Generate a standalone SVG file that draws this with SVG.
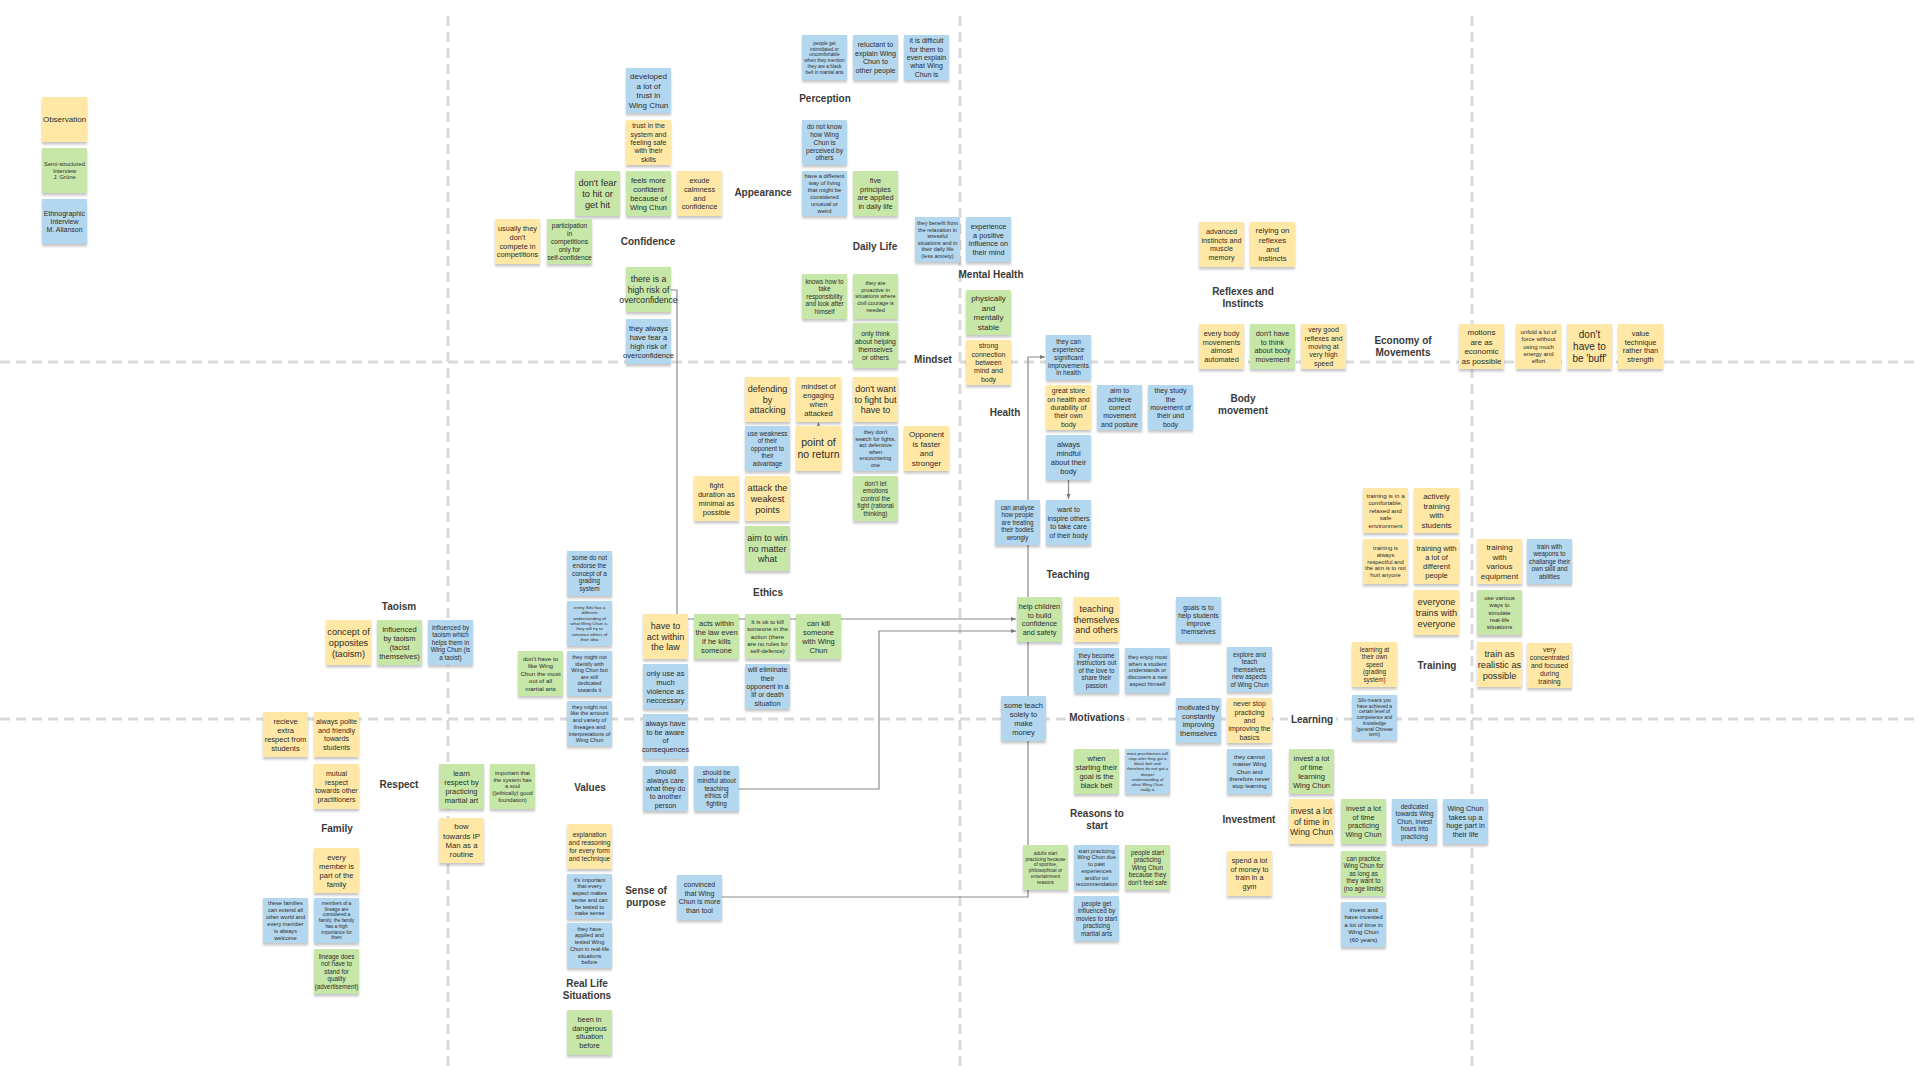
<svg xmlns="http://www.w3.org/2000/svg" width="1920" height="1080" viewBox="0 0 1920 1080">
<defs>
<style>
.y{fill:#FFE8A5}
.g{fill:#C7E7A9}
.b{fill:#B4D7F0}
.n rect{filter:url(#sh)}
.n text{font-family:"Liberation Sans",Arial,sans-serif;fill:#2b2b2b;text-anchor:middle}
.lbl{font-family:"Liberation Sans",Arial,sans-serif;font-weight:bold;font-size:10px;fill:#3a3a3a;text-anchor:middle}
.grid line{stroke:#dadada;stroke-width:3;stroke-dasharray:10 6}
.con path{fill:none;stroke:#8a8a8a;stroke-width:1.2}
.lbg{fill:#ffffff}
</style>
<filter id="sh" x="-20%" y="-20%" width="140%" height="150%">
<feDropShadow dx="0" dy="2.5" stdDeviation="1.2" flood-color="#000" flood-opacity="0.22"/>
</filter>
<marker id="ar" viewBox="0 0 10 10" refX="10" refY="5" markerWidth="5" markerHeight="5" markerUnits="userSpaceOnUse" orient="auto">
<path d="M0,1 L10,5 L0,9 z" fill="#777"/>
</marker>
</defs>
<rect width="1920" height="1080" fill="#ffffff"/>

<g id="grid" class="grid">
<line x1="0" y1="362" x2="1920" y2="362"/>
<line x1="0" y1="719" x2="1920" y2="719"/>
<line x1="448" y1="16" x2="448" y2="1066"/>
<line x1="960" y1="16" x2="960" y2="1066"/>
<line x1="1472" y1="16" x2="1472" y2="1066"/>
</g>

<g id="connectors" class="con">
<path d="M722,897 H1028 V357 H1045" marker-end="url(#ar)"/>
<path d="M688,619 H1016" marker-end="url(#ar)"/>
<path d="M739,789 H879 V631 H1016" marker-end="url(#ar)"/>
<path d="M671,290 H677 V614"/>
<path d="M818.5,426 L818.5,422.5" marker-end="url(#ar)"/>
<path d="M1068.5,480 V499" marker-end="url(#ar)"/>
</g>

<g id="labels">
<rect class="lbg" x="912" y="352" width="42" height="14"/>
<rect class="lbg" x="1067" y="710" width="60" height="14"/>
<rect class="lbg" x="1288" y="712" width="48" height="14"/>
<text class="lbl" x="648" y="244.5">Confidence</text>
<text class="lbl" x="763" y="195.5">Appearance</text>
<text class="lbl" x="825" y="101.5">Perception</text>
<text class="lbl" x="875" y="249.5">Daily Life</text>
<text class="lbl" x="991" y="277.5">Mental Health</text>
<text class="lbl" x="933" y="362.5">Mindset</text>
<text class="lbl" x="1005" y="415.5">Health</text>
<text class="lbl" x="768" y="595.5">Ethics</text>
<text class="lbl" x="1243" y="294.5">Reflexes and<tspan x="1243" dy="12">Instincts</tspan></text>
<text class="lbl" x="1403" y="343.5">Economy of<tspan x="1403" dy="12">Movements</tspan></text>
<text class="lbl" x="1243" y="401.5">Body<tspan x="1243" dy="12">movement</tspan></text>
<text class="lbl" x="1068" y="577.5">Teaching</text>
<text class="lbl" x="1437" y="668.5">Training</text>
<text class="lbl" x="1097" y="720.5">Motivations</text>
<text class="lbl" x="1312" y="722.5">Learning</text>
<text class="lbl" x="1097" y="816.5">Reasons to<tspan x="1097" dy="12">start</tspan></text>
<text class="lbl" x="1249" y="822.5">Investment</text>
<text class="lbl" x="399" y="609.5">Taoism</text>
<text class="lbl" x="399" y="787.5">Respect</text>
<text class="lbl" x="337" y="831.5">Family</text>
<text class="lbl" x="590" y="790.5">Values</text>
<text class="lbl" x="587" y="986.5">Real Life<tspan x="587" dy="12">Situations</tspan></text>
<text class="lbl" x="646" y="893.5">Sense of<tspan x="646" dy="12">purpose</tspan></text>
</g>

<g id="legend">
<g id="L1" class="n" transform="translate(42,97)"><rect class="y" width="45" height="45"/><text x="22.5" y="22.5" font-size="8"><tspan x="22.5" dy="0.35em">Observation</tspan></text></g>
<g id="L2" class="n" transform="translate(42,148)"><rect class="g" width="45" height="45"/><text x="22.5" y="22.5" font-size="5.8"><tspan x="22.5" dy="-0.85em">Semi-structured</tspan><tspan x="22.5" dy="1.2em">Interview</tspan><tspan x="22.5" dy="1.2em">J. Grüne</tspan></text></g>
<g id="L3" class="n" transform="translate(42,199)"><rect class="b" width="45" height="45"/><text x="22.5" y="22.5" font-size="7"><tspan x="22.5" dy="-0.85em">Ethnographic</tspan><tspan x="22.5" dy="1.2em">Interview</tspan><tspan x="22.5" dy="1.2em">M. Allanson</tspan></text></g>
</g>

<g id="c1" class="n" transform="translate(626,68)"><rect class="b" width="45" height="45"/><text x="22.5" y="22.5" font-size="8"><tspan x="22.5" dy="-1.45em">developed</tspan><tspan x="22.5" dy="1.2em">a lot of</tspan><tspan x="22.5" dy="1.2em">trust in</tspan><tspan x="22.5" dy="1.2em">Wing Chun</tspan></text></g>
<g id="c2" class="n" transform="translate(626,120)"><rect class="y" width="45" height="45"/><text x="22.5" y="22.5" font-size="7"><tspan x="22.5" dy="-2.05em">trust in the</tspan><tspan x="22.5" dy="1.2em">system and</tspan><tspan x="22.5" dy="1.2em">feeling safe</tspan><tspan x="22.5" dy="1.2em">with their</tspan><tspan x="22.5" dy="1.2em">skills</tspan></text></g>
<g id="c3" class="n" transform="translate(575,171)"><rect class="g" width="45" height="45"/><text x="22.5" y="22.5" font-size="9.2"><tspan x="22.5" dy="-0.85em">don't fear</tspan><tspan x="22.5" dy="1.2em">to hit or</tspan><tspan x="22.5" dy="1.2em">get hit</tspan></text></g>
<g id="c4" class="n" transform="translate(626,171)"><rect class="g" width="45" height="45"/><text x="22.5" y="22.5" font-size="7.5"><tspan x="22.5" dy="-1.45em">feels more</tspan><tspan x="22.5" dy="1.2em">confident</tspan><tspan x="22.5" dy="1.2em">because of</tspan><tspan x="22.5" dy="1.2em">Wing Chun</tspan></text></g>
<g id="c5" class="n" transform="translate(677,171)"><rect class="y" width="45" height="45"/><text x="22.5" y="22.5" font-size="7.4"><tspan x="22.5" dy="-1.45em">exude</tspan><tspan x="22.5" dy="1.2em">calmness</tspan><tspan x="22.5" dy="1.2em">and</tspan><tspan x="22.5" dy="1.2em">confidence</tspan></text></g>
<g id="c6" class="n" transform="translate(495,219)"><rect class="y" width="45" height="45"/><text x="22.5" y="22.5" font-size="7.4"><tspan x="22.5" dy="-1.45em">usually they</tspan><tspan x="22.5" dy="1.2em">don't</tspan><tspan x="22.5" dy="1.2em">compete in</tspan><tspan x="22.5" dy="1.2em">competitions</tspan></text></g>
<g id="c7" class="n" transform="translate(547,219)"><rect class="g" width="45" height="45"/><text x="22.5" y="22.5" font-size="6.6"><tspan x="22.5" dy="-2.05em">participation</tspan><tspan x="22.5" dy="1.2em">in</tspan><tspan x="22.5" dy="1.2em">competitions</tspan><tspan x="22.5" dy="1.2em">only for</tspan><tspan x="22.5" dy="1.2em">self-confidence</tspan></text></g>
<g id="c8" class="n" transform="translate(626,267)"><rect class="g" width="45" height="45"/><text x="22.5" y="22.5" font-size="8.6"><tspan x="22.5" dy="-0.85em">there is a</tspan><tspan x="22.5" dy="1.2em">high risk of</tspan><tspan x="22.5" dy="1.2em">overconfidence</tspan></text></g>
<g id="c9" class="n" transform="translate(626,319)"><rect class="b" width="45" height="45"/><text x="22.5" y="22.5" font-size="7.5"><tspan x="22.5" dy="-1.45em">they always</tspan><tspan x="22.5" dy="1.2em">have fear a</tspan><tspan x="22.5" dy="1.2em">high risk of</tspan><tspan x="22.5" dy="1.2em">overconfidence</tspan></text></g>

<g id="p1" class="n" transform="translate(802,35)"><rect class="b" width="45" height="45"/><text x="22.5" y="22.5" font-size="4.8"><tspan x="22.5" dy="-2.65em">people get</tspan><tspan x="22.5" dy="1.2em">intimidated or</tspan><tspan x="22.5" dy="1.2em">uncomfortable</tspan><tspan x="22.5" dy="1.2em">when they mention</tspan><tspan x="22.5" dy="1.2em">they are a black</tspan><tspan x="22.5" dy="1.2em">belt in martial arts</tspan></text></g>
<g id="p2" class="n" transform="translate(853,35)"><rect class="b" width="45" height="45"/><text x="22.5" y="22.5" font-size="7.2"><tspan x="22.5" dy="-1.45em">reluctant to</tspan><tspan x="22.5" dy="1.2em">explain Wing</tspan><tspan x="22.5" dy="1.2em">Chun to</tspan><tspan x="22.5" dy="1.2em">other people</tspan></text></g>
<g id="p3" class="n" transform="translate(904,35)"><rect class="b" width="45" height="45"/><text x="22.5" y="22.5" font-size="7"><tspan x="22.5" dy="-2.05em">it is difficult</tspan><tspan x="22.5" dy="1.2em">for them to</tspan><tspan x="22.5" dy="1.2em">even explain</tspan><tspan x="22.5" dy="1.2em">what Wing</tspan><tspan x="22.5" dy="1.2em">Chun is</tspan></text></g>
<g id="a1" class="n" transform="translate(802,120)"><rect class="b" width="45" height="45"/><text x="22.5" y="22.5" font-size="6.5"><tspan x="22.5" dy="-2.05em">do not know</tspan><tspan x="22.5" dy="1.2em">how Wing</tspan><tspan x="22.5" dy="1.2em">Chun is</tspan><tspan x="22.5" dy="1.2em">perceived by</tspan><tspan x="22.5" dy="1.2em">others</tspan></text></g>
<g id="a2" class="n" transform="translate(802,171)"><rect class="b" width="45" height="45"/><text x="22.5" y="22.5" font-size="5.8"><tspan x="22.5" dy="-2.65em">have a different</tspan><tspan x="22.5" dy="1.2em">way of living</tspan><tspan x="22.5" dy="1.2em">that might be</tspan><tspan x="22.5" dy="1.2em">considered</tspan><tspan x="22.5" dy="1.2em">unusual or</tspan><tspan x="22.5" dy="1.2em">weird</tspan></text></g>
<g id="d1" class="n" transform="translate(853,171)"><rect class="g" width="45" height="45"/><text x="22.5" y="22.5" font-size="7.3"><tspan x="22.5" dy="-1.45em">five</tspan><tspan x="22.5" dy="1.2em">principles</tspan><tspan x="22.5" dy="1.2em">are applied</tspan><tspan x="22.5" dy="1.2em">in daily life</tspan></text></g>
<g id="m1" class="n" transform="translate(915,217)"><rect class="b" width="45" height="45"/><text x="22.5" y="22.5" font-size="5.5"><tspan x="22.5" dy="-2.65em">they benefit from</tspan><tspan x="22.5" dy="1.2em">the relaxation in</tspan><tspan x="22.5" dy="1.2em">stressful</tspan><tspan x="22.5" dy="1.2em">situations and in</tspan><tspan x="22.5" dy="1.2em">their daily life</tspan><tspan x="22.5" dy="1.2em">(less anxiety)</tspan></text></g>
<g id="m2" class="n" transform="translate(966,217)"><rect class="b" width="45" height="45"/><text x="22.5" y="22.5" font-size="7.3"><tspan x="22.5" dy="-1.45em">experience</tspan><tspan x="22.5" dy="1.2em">a positive</tspan><tspan x="22.5" dy="1.2em">influence on</tspan><tspan x="22.5" dy="1.2em">their mind</tspan></text></g>
<g id="d2" class="n" transform="translate(802,274)"><rect class="g" width="45" height="45"/><text x="22.5" y="22.5" font-size="6.3"><tspan x="22.5" dy="-2.05em">knows how to</tspan><tspan x="22.5" dy="1.2em">take</tspan><tspan x="22.5" dy="1.2em">responsibility</tspan><tspan x="22.5" dy="1.2em">and look after</tspan><tspan x="22.5" dy="1.2em">himself</tspan></text></g>
<g id="d3" class="n" transform="translate(853,274)"><rect class="g" width="45" height="45"/><text x="22.5" y="22.5" font-size="5.6"><tspan x="22.5" dy="-2.05em">they are</tspan><tspan x="22.5" dy="1.2em">proactive in</tspan><tspan x="22.5" dy="1.2em">situations where</tspan><tspan x="22.5" dy="1.2em">civil courage is</tspan><tspan x="22.5" dy="1.2em">needed</tspan></text></g>
<g id="d4" class="n" transform="translate(853,323)"><rect class="g" width="45" height="45"/><text x="22.5" y="22.5" font-size="6.8"><tspan x="22.5" dy="-1.45em">only think</tspan><tspan x="22.5" dy="1.2em">about helping</tspan><tspan x="22.5" dy="1.2em">themselves</tspan><tspan x="22.5" dy="1.2em">or others</tspan></text></g>
<g id="m3" class="n" transform="translate(966,290)"><rect class="g" width="45" height="45"/><text x="22.5" y="22.5" font-size="8"><tspan x="22.5" dy="-1.45em">physically</tspan><tspan x="22.5" dy="1.2em">and</tspan><tspan x="22.5" dy="1.2em">mentally</tspan><tspan x="22.5" dy="1.2em">stable</tspan></text></g>
<g id="m4" class="n" transform="translate(966,340)"><rect class="y" width="45" height="45"/><text x="22.5" y="22.5" font-size="7"><tspan x="22.5" dy="-2.05em">strong</tspan><tspan x="22.5" dy="1.2em">connection</tspan><tspan x="22.5" dy="1.2em">between</tspan><tspan x="22.5" dy="1.2em">mind and</tspan><tspan x="22.5" dy="1.2em">body</tspan></text></g>

<g id="e1" class="n" transform="translate(745,377)"><rect class="y" width="45" height="45"/><text x="22.5" y="22.5" font-size="9"><tspan x="22.5" dy="-0.85em">defending</tspan><tspan x="22.5" dy="1.2em">by</tspan><tspan x="22.5" dy="1.2em">attacking</tspan></text></g>
<g id="e2" class="n" transform="translate(796,377)"><rect class="y" width="45" height="45"/><text x="22.5" y="22.5" font-size="7.5"><tspan x="22.5" dy="-1.45em">mindset of</tspan><tspan x="22.5" dy="1.2em">engaging</tspan><tspan x="22.5" dy="1.2em">when</tspan><tspan x="22.5" dy="1.2em">attacked</tspan></text></g>
<g id="e3" class="n" transform="translate(853,377)"><rect class="y" width="45" height="45"/><text x="22.5" y="22.5" font-size="9"><tspan x="22.5" dy="-0.85em">don't want</tspan><tspan x="22.5" dy="1.2em">to fight but</tspan><tspan x="22.5" dy="1.2em">have to</tspan></text></g>
<g id="e4" class="n" transform="translate(745,426)"><rect class="b" width="45" height="45"/><text x="22.5" y="22.5" font-size="6.3"><tspan x="22.5" dy="-2.05em">use weakness</tspan><tspan x="22.5" dy="1.2em">of their</tspan><tspan x="22.5" dy="1.2em">opponent to</tspan><tspan x="22.5" dy="1.2em">their</tspan><tspan x="22.5" dy="1.2em">advantage</tspan></text></g>
<g id="e5" class="n" transform="translate(796,426)"><rect class="y" width="45" height="45"/><text x="22.5" y="22.5" font-size="10.5"><tspan x="22.5" dy="-0.25em">point of</tspan><tspan x="22.5" dy="1.2em">no return</tspan></text></g>
<g id="e6" class="n" transform="translate(853,426)"><rect class="b" width="45" height="45"/><text x="22.5" y="22.5" font-size="5.5"><tspan x="22.5" dy="-2.65em">they don't</tspan><tspan x="22.5" dy="1.2em">search for fights,</tspan><tspan x="22.5" dy="1.2em">act defensive</tspan><tspan x="22.5" dy="1.2em">when</tspan><tspan x="22.5" dy="1.2em">encountering</tspan><tspan x="22.5" dy="1.2em">one</tspan></text></g>
<g id="e7" class="n" transform="translate(904,426)"><rect class="y" width="45" height="45"/><text x="22.5" y="22.5" font-size="8"><tspan x="22.5" dy="-1.45em">Opponent</tspan><tspan x="22.5" dy="1.2em">is faster</tspan><tspan x="22.5" dy="1.2em">and</tspan><tspan x="22.5" dy="1.2em">stronger</tspan></text></g>
<g id="e8" class="n" transform="translate(694,476)"><rect class="y" width="45" height="45"/><text x="22.5" y="22.5" font-size="7.5"><tspan x="22.5" dy="-1.45em">fight</tspan><tspan x="22.5" dy="1.2em">duration as</tspan><tspan x="22.5" dy="1.2em">minimal as</tspan><tspan x="22.5" dy="1.2em">possible</tspan></text></g>
<g id="e9" class="n" transform="translate(745,476)"><rect class="y" width="45" height="45"/><text x="22.5" y="22.5" font-size="9.2"><tspan x="22.5" dy="-0.85em">attack the</tspan><tspan x="22.5" dy="1.2em">weakest</tspan><tspan x="22.5" dy="1.2em">points</tspan></text></g>
<g id="e10" class="n" transform="translate(853,476)"><rect class="g" width="45" height="45"/><text x="22.5" y="22.5" font-size="6.3"><tspan x="22.5" dy="-2.05em">don't let</tspan><tspan x="22.5" dy="1.2em">emotions</tspan><tspan x="22.5" dy="1.2em">control the</tspan><tspan x="22.5" dy="1.2em">fight (rational</tspan><tspan x="22.5" dy="1.2em">thinking)</tspan></text></g>
<g id="e11" class="n" transform="translate(745,526)"><rect class="g" width="45" height="45"/><text x="22.5" y="22.5" font-size="9"><tspan x="22.5" dy="-0.85em">aim to win</tspan><tspan x="22.5" dy="1.2em">no matter</tspan><tspan x="22.5" dy="1.2em">what</tspan></text></g>

<g id="h1" class="n" transform="translate(1046,335)"><rect class="b" width="45" height="45"/><text x="22.5" y="22.5" font-size="6.5"><tspan x="22.5" dy="-2.05em">they can</tspan><tspan x="22.5" dy="1.2em">experience</tspan><tspan x="22.5" dy="1.2em">significant</tspan><tspan x="22.5" dy="1.2em">improvements</tspan><tspan x="22.5" dy="1.2em">in health</tspan></text></g>
<g id="h2" class="n" transform="translate(1046,385)"><rect class="y" width="45" height="45"/><text x="22.5" y="22.5" font-size="7"><tspan x="22.5" dy="-2.05em">great store</tspan><tspan x="22.5" dy="1.2em">on health and</tspan><tspan x="22.5" dy="1.2em">durability of</tspan><tspan x="22.5" dy="1.2em">their own</tspan><tspan x="22.5" dy="1.2em">body</tspan></text></g>
<g id="h3" class="n" transform="translate(1097,385)"><rect class="b" width="45" height="45"/><text x="22.5" y="22.5" font-size="7"><tspan x="22.5" dy="-2.05em">aim to</tspan><tspan x="22.5" dy="1.2em">achieve</tspan><tspan x="22.5" dy="1.2em">correct</tspan><tspan x="22.5" dy="1.2em">movement</tspan><tspan x="22.5" dy="1.2em">and posture</tspan></text></g>
<g id="h4" class="n" transform="translate(1148,385)"><rect class="b" width="45" height="45"/><text x="22.5" y="22.5" font-size="7"><tspan x="22.5" dy="-2.05em">they study</tspan><tspan x="22.5" dy="1.2em">the</tspan><tspan x="22.5" dy="1.2em">movement of</tspan><tspan x="22.5" dy="1.2em">their und</tspan><tspan x="22.5" dy="1.2em">body</tspan></text></g>
<g id="h5" class="n" transform="translate(1046,435)"><rect class="b" width="45" height="45"/><text x="22.5" y="22.5" font-size="7.5"><tspan x="22.5" dy="-1.45em">always</tspan><tspan x="22.5" dy="1.2em">mindful</tspan><tspan x="22.5" dy="1.2em">about their</tspan><tspan x="22.5" dy="1.2em">body</tspan></text></g>
<g id="h6" class="n" transform="translate(1046,500)"><rect class="b" width="45" height="45"/><text x="22.5" y="22.5" font-size="7"><tspan x="22.5" dy="-1.45em">want to</tspan><tspan x="22.5" dy="1.2em">inspire others</tspan><tspan x="22.5" dy="1.2em">to take care</tspan><tspan x="22.5" dy="1.2em">of their body</tspan></text></g>
<g id="h7" class="n" transform="translate(995,500)"><rect class="b" width="45" height="45"/><text x="22.5" y="22.5" font-size="6.3"><tspan x="22.5" dy="-2.05em">can analyse</tspan><tspan x="22.5" dy="1.2em">how people</tspan><tspan x="22.5" dy="1.2em">are treating</tspan><tspan x="22.5" dy="1.2em">their bodies</tspan><tspan x="22.5" dy="1.2em">wrongly</tspan></text></g>

<g id="r1" class="n" transform="translate(1199,222)"><rect class="y" width="45" height="45"/><text x="22.5" y="22.5" font-size="7.2"><tspan x="22.5" dy="-1.45em">advanced</tspan><tspan x="22.5" dy="1.2em">instincts and</tspan><tspan x="22.5" dy="1.2em">muscle</tspan><tspan x="22.5" dy="1.2em">memory</tspan></text></g>
<g id="r2" class="n" transform="translate(1250,222)"><rect class="y" width="45" height="45"/><text x="22.5" y="22.5" font-size="7.8"><tspan x="22.5" dy="-1.45em">relying on</tspan><tspan x="22.5" dy="1.2em">reflexes</tspan><tspan x="22.5" dy="1.2em">and</tspan><tspan x="22.5" dy="1.2em">instincts</tspan></text></g>
<g id="r3" class="n" transform="translate(1199,324)"><rect class="y" width="45" height="45"/><text x="22.5" y="22.5" font-size="7.3"><tspan x="22.5" dy="-1.45em">every body</tspan><tspan x="22.5" dy="1.2em">movements</tspan><tspan x="22.5" dy="1.2em">almost</tspan><tspan x="22.5" dy="1.2em">automated</tspan></text></g>
<g id="r4" class="n" transform="translate(1250,324)"><rect class="g" width="45" height="45"/><text x="22.5" y="22.5" font-size="7.3"><tspan x="22.5" dy="-1.45em">don't have</tspan><tspan x="22.5" dy="1.2em">to think</tspan><tspan x="22.5" dy="1.2em">about body</tspan><tspan x="22.5" dy="1.2em">movement</tspan></text></g>
<g id="r5" class="n" transform="translate(1301,324)"><rect class="y" width="45" height="45"/><text x="22.5" y="22.5" font-size="7"><tspan x="22.5" dy="-2.05em">very good</tspan><tspan x="22.5" dy="1.2em">reflexes and</tspan><tspan x="22.5" dy="1.2em">moving at</tspan><tspan x="22.5" dy="1.2em">very high</tspan><tspan x="22.5" dy="1.2em">speed</tspan></text></g>
<g id="x1" class="n" transform="translate(1459,324)"><rect class="y" width="45" height="45"/><text x="22.5" y="22.5" font-size="8"><tspan x="22.5" dy="-1.45em">motions</tspan><tspan x="22.5" dy="1.2em">are as</tspan><tspan x="22.5" dy="1.2em">economic</tspan><tspan x="22.5" dy="1.2em">as possible</tspan></text></g>
<g id="x2" class="n" transform="translate(1516,324)"><rect class="y" width="45" height="45"/><text x="22.5" y="22.5" font-size="6"><tspan x="22.5" dy="-2.05em">unfold a lot of</tspan><tspan x="22.5" dy="1.2em">force without</tspan><tspan x="22.5" dy="1.2em">using much</tspan><tspan x="22.5" dy="1.2em">energy and</tspan><tspan x="22.5" dy="1.2em">effort</tspan></text></g>
<g id="x3" class="n" transform="translate(1567,324)"><rect class="y" width="45" height="45"/><text x="22.5" y="22.5" font-size="10"><tspan x="22.5" dy="-0.85em">don't</tspan><tspan x="22.5" dy="1.2em">have to</tspan><tspan x="22.5" dy="1.2em">be 'buff'</tspan></text></g>
<g id="x4" class="n" transform="translate(1618,324)"><rect class="y" width="45" height="45"/><text x="22.5" y="22.5" font-size="7.3"><tspan x="22.5" dy="-1.45em">value</tspan><tspan x="22.5" dy="1.2em">technique</tspan><tspan x="22.5" dy="1.2em">rather than</tspan><tspan x="22.5" dy="1.2em">strength</tspan></text></g>

<g id="t1" class="n" transform="translate(1363,488)"><rect class="y" width="45" height="45"/><text x="22.5" y="22.5" font-size="6.2"><tspan x="22.5" dy="-2.05em">training is in a</tspan><tspan x="22.5" dy="1.2em">comfortable,</tspan><tspan x="22.5" dy="1.2em">relaxed and</tspan><tspan x="22.5" dy="1.2em">safe</tspan><tspan x="22.5" dy="1.2em">environment</tspan></text></g>
<g id="t2" class="n" transform="translate(1414,488)"><rect class="y" width="45" height="45"/><text x="22.5" y="22.5" font-size="8"><tspan x="22.5" dy="-1.45em">actively</tspan><tspan x="22.5" dy="1.2em">training</tspan><tspan x="22.5" dy="1.2em">with</tspan><tspan x="22.5" dy="1.2em">students</tspan></text></g>
<g id="t3" class="n" transform="translate(1363,539)"><rect class="y" width="45" height="45"/><text x="22.5" y="22.5" font-size="5.8"><tspan x="22.5" dy="-2.05em">training is</tspan><tspan x="22.5" dy="1.2em">always</tspan><tspan x="22.5" dy="1.2em">respectful and</tspan><tspan x="22.5" dy="1.2em">the aim is to not</tspan><tspan x="22.5" dy="1.2em">hurt anyone</tspan></text></g>
<g id="t4" class="n" transform="translate(1414,539)"><rect class="y" width="45" height="45"/><text x="22.5" y="22.5" font-size="7.5"><tspan x="22.5" dy="-1.45em">training with</tspan><tspan x="22.5" dy="1.2em">a lot of</tspan><tspan x="22.5" dy="1.2em">different</tspan><tspan x="22.5" dy="1.2em">people</tspan></text></g>
<g id="t5" class="n" transform="translate(1477,539)"><rect class="y" width="45" height="45"/><text x="22.5" y="22.5" font-size="8"><tspan x="22.5" dy="-1.45em">training</tspan><tspan x="22.5" dy="1.2em">with</tspan><tspan x="22.5" dy="1.2em">various</tspan><tspan x="22.5" dy="1.2em">equipment</tspan></text></g>
<g id="t6" class="n" transform="translate(1527,539)"><rect class="b" width="45" height="45"/><text x="22.5" y="22.5" font-size="6.3"><tspan x="22.5" dy="-2.05em">train with</tspan><tspan x="22.5" dy="1.2em">weapons to</tspan><tspan x="22.5" dy="1.2em">challange their</tspan><tspan x="22.5" dy="1.2em">own skill and</tspan><tspan x="22.5" dy="1.2em">abilities</tspan></text></g>
<g id="t7" class="n" transform="translate(1414,590)"><rect class="y" width="45" height="45"/><text x="22.5" y="22.5" font-size="9.2"><tspan x="22.5" dy="-0.85em">everyone</tspan><tspan x="22.5" dy="1.2em">trains with</tspan><tspan x="22.5" dy="1.2em">everyone</tspan></text></g>
<g id="t8" class="n" transform="translate(1477,590)"><rect class="g" width="45" height="45"/><text x="22.5" y="22.5" font-size="6"><tspan x="22.5" dy="-2.05em">use various</tspan><tspan x="22.5" dy="1.2em">ways to</tspan><tspan x="22.5" dy="1.2em">simulate</tspan><tspan x="22.5" dy="1.2em">real-life</tspan><tspan x="22.5" dy="1.2em">situations</tspan></text></g>
<g id="t9" class="n" transform="translate(1352,642)"><rect class="y" width="45" height="45"/><text x="22.5" y="22.5" font-size="6.3"><tspan x="22.5" dy="-2.05em">learning at</tspan><tspan x="22.5" dy="1.2em">their own</tspan><tspan x="22.5" dy="1.2em">speed</tspan><tspan x="22.5" dy="1.2em">(grading</tspan><tspan x="22.5" dy="1.2em">system)</tspan></text></g>
<g id="t10" class="n" transform="translate(1477,642)"><rect class="y" width="45" height="45"/><text x="22.5" y="22.5" font-size="9.2"><tspan x="22.5" dy="-0.85em">train as</tspan><tspan x="22.5" dy="1.2em">realistic as</tspan><tspan x="22.5" dy="1.2em">possible</tspan></text></g>
<g id="t11" class="n" transform="translate(1527,643)"><rect class="y" width="45" height="45"/><text x="22.5" y="22.5" font-size="6.8"><tspan x="22.5" dy="-2.05em">very</tspan><tspan x="22.5" dy="1.2em">concentrated</tspan><tspan x="22.5" dy="1.2em">and focused</tspan><tspan x="22.5" dy="1.2em">during</tspan><tspan x="22.5" dy="1.2em">training</tspan></text></g>
<g id="l1" class="n" transform="translate(1352,695)"><rect class="b" width="45" height="45"/><text x="22.5" y="22.5" font-size="4.8"><tspan x="22.5" dy="-3.25em">Sifu means you</tspan><tspan x="22.5" dy="1.2em">have achieved a</tspan><tspan x="22.5" dy="1.2em">certain level of</tspan><tspan x="22.5" dy="1.2em">competence and</tspan><tspan x="22.5" dy="1.2em">knowledge</tspan><tspan x="22.5" dy="1.2em">(general Chinese</tspan><tspan x="22.5" dy="1.2em">term)</tspan></text></g>

<g id="k1" class="n" transform="translate(1017,597)"><rect class="g" width="45" height="45"/><text x="22.5" y="22.5" font-size="7.3"><tspan x="22.5" dy="-1.45em">help children</tspan><tspan x="22.5" dy="1.2em">to build</tspan><tspan x="22.5" dy="1.2em">confidence</tspan><tspan x="22.5" dy="1.2em">and safety</tspan></text></g>
<g id="k2" class="n" transform="translate(1074,597)"><rect class="y" width="45" height="45"/><text x="22.5" y="22.5" font-size="9"><tspan x="22.5" dy="-0.85em">teaching</tspan><tspan x="22.5" dy="1.2em">themselves</tspan><tspan x="22.5" dy="1.2em">and others</tspan></text></g>
<g id="k3" class="n" transform="translate(1176,597)"><rect class="b" width="45" height="45"/><text x="22.5" y="22.5" font-size="6.8"><tspan x="22.5" dy="-1.45em">goals is to</tspan><tspan x="22.5" dy="1.2em">help students</tspan><tspan x="22.5" dy="1.2em">improve</tspan><tspan x="22.5" dy="1.2em">themselves</tspan></text></g>
<g id="k4" class="n" transform="translate(1074,648)"><rect class="b" width="45" height="45"/><text x="22.5" y="22.5" font-size="6.3"><tspan x="22.5" dy="-2.05em">they become</tspan><tspan x="22.5" dy="1.2em">instructors out</tspan><tspan x="22.5" dy="1.2em">of the love to</tspan><tspan x="22.5" dy="1.2em">share their</tspan><tspan x="22.5" dy="1.2em">passion</tspan></text></g>
<g id="k5" class="n" transform="translate(1125,648)"><rect class="b" width="45" height="45"/><text x="22.5" y="22.5" font-size="5.6"><tspan x="22.5" dy="-2.05em">they enjoy most</tspan><tspan x="22.5" dy="1.2em">when a student</tspan><tspan x="22.5" dy="1.2em">understands or</tspan><tspan x="22.5" dy="1.2em">discovers a new</tspan><tspan x="22.5" dy="1.2em">aspect himself</tspan></text></g>
<g id="k6" class="n" transform="translate(1227,647)"><rect class="b" width="45" height="45"/><text x="22.5" y="22.5" font-size="6.3"><tspan x="22.5" dy="-2.05em">explore and</tspan><tspan x="22.5" dy="1.2em">teach</tspan><tspan x="22.5" dy="1.2em">themselves</tspan><tspan x="22.5" dy="1.2em">new aspects</tspan><tspan x="22.5" dy="1.2em">of Wing Chun</tspan></text></g>
<g id="k7" class="n" transform="translate(1001,696)"><rect class="b" width="45" height="45"/><text x="22.5" y="22.5" font-size="7.5"><tspan x="22.5" dy="-1.45em">some teach</tspan><tspan x="22.5" dy="1.2em">solely to</tspan><tspan x="22.5" dy="1.2em">make</tspan><tspan x="22.5" dy="1.2em">money</tspan></text></g>
<g id="k8" class="n" transform="translate(1176,698)"><rect class="b" width="45" height="45"/><text x="22.5" y="22.5" font-size="7.3"><tspan x="22.5" dy="-1.45em">motivated by</tspan><tspan x="22.5" dy="1.2em">constantly</tspan><tspan x="22.5" dy="1.2em">improving</tspan><tspan x="22.5" dy="1.2em">themselves</tspan></text></g>
<g id="k9" class="n" transform="translate(1227,698)"><rect class="y" width="45" height="45"/><text x="22.5" y="22.5" font-size="7"><tspan x="22.5" dy="-2.05em">never stop</tspan><tspan x="22.5" dy="1.2em">practicing</tspan><tspan x="22.5" dy="1.2em">and</tspan><tspan x="22.5" dy="1.2em">improving the</tspan><tspan x="22.5" dy="1.2em">basics</tspan></text></g>
<g id="s1" class="n" transform="translate(1074,749)"><rect class="g" width="45" height="45"/><text x="22.5" y="22.5" font-size="7.5"><tspan x="22.5" dy="-1.45em">when</tspan><tspan x="22.5" dy="1.2em">starting their</tspan><tspan x="22.5" dy="1.2em">goal is the</tspan><tspan x="22.5" dy="1.2em">black belt</tspan></text></g>
<g id="s2" class="n" transform="translate(1125,749)"><rect class="b" width="45" height="45"/><text x="22.5" y="22.5" font-size="4.3"><tspan x="22.5" dy="-3.85em">most practitioners will</tspan><tspan x="22.5" dy="1.2em">stop after they got a</tspan><tspan x="22.5" dy="1.2em">black belt and</tspan><tspan x="22.5" dy="1.2em">therefore do not got a</tspan><tspan x="22.5" dy="1.2em">deeper</tspan><tspan x="22.5" dy="1.2em">understanding of</tspan><tspan x="22.5" dy="1.2em">what Wing Chun</tspan><tspan x="22.5" dy="1.2em">really is</tspan></text></g>
<g id="l2" class="n" transform="translate(1227,749)"><rect class="b" width="45" height="45"/><text x="22.5" y="22.5" font-size="6"><tspan x="22.5" dy="-2.05em">they cannot</tspan><tspan x="22.5" dy="1.2em">master Wing</tspan><tspan x="22.5" dy="1.2em">Chun and</tspan><tspan x="22.5" dy="1.2em">therefore never</tspan><tspan x="22.5" dy="1.2em">stop learning</tspan></text></g>
<g id="i1" class="n" transform="translate(1289,749)"><rect class="g" width="45" height="45"/><text x="22.5" y="22.5" font-size="7.5"><tspan x="22.5" dy="-1.45em">invest a lot</tspan><tspan x="22.5" dy="1.2em">of time</tspan><tspan x="22.5" dy="1.2em">learning</tspan><tspan x="22.5" dy="1.2em">Wing Chun</tspan></text></g>
<g id="i2" class="n" transform="translate(1289,799)"><rect class="y" width="45" height="45"/><text x="22.5" y="22.5" font-size="8.7"><tspan x="22.5" dy="-0.85em">invest a lot</tspan><tspan x="22.5" dy="1.2em">of time in</tspan><tspan x="22.5" dy="1.2em">Wing Chun</tspan></text></g>
<g id="i3" class="n" transform="translate(1341,799)"><rect class="g" width="45" height="45"/><text x="22.5" y="22.5" font-size="7.3"><tspan x="22.5" dy="-1.45em">invest a lot</tspan><tspan x="22.5" dy="1.2em">of time</tspan><tspan x="22.5" dy="1.2em">practicing</tspan><tspan x="22.5" dy="1.2em">Wing Chun</tspan></text></g>
<g id="i4" class="n" transform="translate(1392,799)"><rect class="b" width="45" height="45"/><text x="22.5" y="22.5" font-size="6.3"><tspan x="22.5" dy="-2.05em">dedicated</tspan><tspan x="22.5" dy="1.2em">towards Wing</tspan><tspan x="22.5" dy="1.2em">Chun, invest</tspan><tspan x="22.5" dy="1.2em">hours into</tspan><tspan x="22.5" dy="1.2em">practicing</tspan></text></g>
<g id="i5" class="n" transform="translate(1443,799)"><rect class="b" width="45" height="45"/><text x="22.5" y="22.5" font-size="7.3"><tspan x="22.5" dy="-1.45em">Wing Chun</tspan><tspan x="22.5" dy="1.2em">takes up a</tspan><tspan x="22.5" dy="1.2em">huge part in</tspan><tspan x="22.5" dy="1.2em">their life</tspan></text></g>
<g id="s3" class="n" transform="translate(1023,845)"><rect class="g" width="45" height="45"/><text x="22.5" y="22.5" font-size="4.8"><tspan x="22.5" dy="-2.65em">adults start</tspan><tspan x="22.5" dy="1.2em">practicing because</tspan><tspan x="22.5" dy="1.2em">of sportive,</tspan><tspan x="22.5" dy="1.2em">philosophical or</tspan><tspan x="22.5" dy="1.2em">entertainment</tspan><tspan x="22.5" dy="1.2em">reasons</tspan></text></g>
<g id="s4" class="n" transform="translate(1074,845)"><rect class="b" width="45" height="45"/><text x="22.5" y="22.5" font-size="5.6"><tspan x="22.5" dy="-2.65em">start practicing</tspan><tspan x="22.5" dy="1.2em">Wing Chun due</tspan><tspan x="22.5" dy="1.2em">to past</tspan><tspan x="22.5" dy="1.2em">experiences</tspan><tspan x="22.5" dy="1.2em">and/or on</tspan><tspan x="22.5" dy="1.2em">recommendation</tspan></text></g>
<g id="s5" class="n" transform="translate(1125,845)"><rect class="g" width="45" height="45"/><text x="22.5" y="22.5" font-size="6.3"><tspan x="22.5" dy="-2.05em">people start</tspan><tspan x="22.5" dy="1.2em">practicing</tspan><tspan x="22.5" dy="1.2em">Wing Chun</tspan><tspan x="22.5" dy="1.2em">because they</tspan><tspan x="22.5" dy="1.2em">don't feel safe</tspan></text></g>
<g id="i6" class="n" transform="translate(1227,851)"><rect class="y" width="45" height="45"/><text x="22.5" y="22.5" font-size="7.3"><tspan x="22.5" dy="-1.45em">spend a lot</tspan><tspan x="22.5" dy="1.2em">of money to</tspan><tspan x="22.5" dy="1.2em">train in a</tspan><tspan x="22.5" dy="1.2em">gym</tspan></text></g>
<g id="i7" class="n" transform="translate(1341,851)"><rect class="g" width="45" height="45"/><text x="22.5" y="22.5" font-size="6.3"><tspan x="22.5" dy="-2.05em">can practice</tspan><tspan x="22.5" dy="1.2em">Wing Chun for</tspan><tspan x="22.5" dy="1.2em">as long as</tspan><tspan x="22.5" dy="1.2em">they want to</tspan><tspan x="22.5" dy="1.2em">(no age limits)</tspan></text></g>
<g id="s6" class="n" transform="translate(1074,896)"><rect class="b" width="45" height="45"/><text x="22.5" y="22.5" font-size="6.3"><tspan x="22.5" dy="-2.05em">people get</tspan><tspan x="22.5" dy="1.2em">influenced by</tspan><tspan x="22.5" dy="1.2em">movies to start</tspan><tspan x="22.5" dy="1.2em">practicing</tspan><tspan x="22.5" dy="1.2em">martial arts</tspan></text></g>
<g id="i8" class="n" transform="translate(1341,902)"><rect class="b" width="45" height="45"/><text x="22.5" y="22.5" font-size="6.2"><tspan x="22.5" dy="-2.05em">invest and</tspan><tspan x="22.5" dy="1.2em">have invested</tspan><tspan x="22.5" dy="1.2em">a lot of time in</tspan><tspan x="22.5" dy="1.2em">Wing Chun</tspan><tspan x="22.5" dy="1.2em">(60 years)</tspan></text></g>

<g id="o1" class="n" transform="translate(326,620)"><rect class="y" width="45" height="45"/><text x="22.5" y="22.5" font-size="9.2"><tspan x="22.5" dy="-0.85em">concept of</tspan><tspan x="22.5" dy="1.2em">opposites</tspan><tspan x="22.5" dy="1.2em">(taoism)</tspan></text></g>
<g id="o2" class="n" transform="translate(377,620)"><rect class="g" width="45" height="45"/><text x="22.5" y="22.5" font-size="7.5"><tspan x="22.5" dy="-1.45em">influenced</tspan><tspan x="22.5" dy="1.2em">by taoism</tspan><tspan x="22.5" dy="1.2em">(tacist</tspan><tspan x="22.5" dy="1.2em">themselves)</tspan></text></g>
<g id="o3" class="n" transform="translate(428,620)"><rect class="b" width="45" height="45"/><text x="22.5" y="22.5" font-size="6.3"><tspan x="22.5" dy="-2.05em">influenced by</tspan><tspan x="22.5" dy="1.2em">taoism which</tspan><tspan x="22.5" dy="1.2em">helps them in</tspan><tspan x="22.5" dy="1.2em">Wing Chun (is</tspan><tspan x="22.5" dy="1.2em">a taoist)</tspan></text></g>
<g id="v1" class="n" transform="translate(518,651)"><rect class="g" width="45" height="45"/><text x="22.5" y="22.5" font-size="6.2"><tspan x="22.5" dy="-2.05em">don't have to</tspan><tspan x="22.5" dy="1.2em">like Wing</tspan><tspan x="22.5" dy="1.2em">Chun the most</tspan><tspan x="22.5" dy="1.2em">out of all</tspan><tspan x="22.5" dy="1.2em">martial arts</tspan></text></g>
<g id="f1" class="n" transform="translate(263,712)"><rect class="y" width="45" height="45"/><text x="22.5" y="22.5" font-size="7.5"><tspan x="22.5" dy="-1.45em">recieve</tspan><tspan x="22.5" dy="1.2em">extra</tspan><tspan x="22.5" dy="1.2em">respect from</tspan><tspan x="22.5" dy="1.2em">students</tspan></text></g>
<g id="f2" class="n" transform="translate(314,712)"><rect class="y" width="45" height="45"/><text x="22.5" y="22.5" font-size="7.2"><tspan x="22.5" dy="-1.45em">always polite</tspan><tspan x="22.5" dy="1.2em">and friendly</tspan><tspan x="22.5" dy="1.2em">towards</tspan><tspan x="22.5" dy="1.2em">students</tspan></text></g>
<g id="f3" class="n" transform="translate(314,764)"><rect class="y" width="45" height="45"/><text x="22.5" y="22.5" font-size="7"><tspan x="22.5" dy="-1.45em">mutual</tspan><tspan x="22.5" dy="1.2em">respect</tspan><tspan x="22.5" dy="1.2em">towards other</tspan><tspan x="22.5" dy="1.2em">practitioners</tspan></text></g>
<g id="r6" class="n" transform="translate(439,764)"><rect class="g" width="45" height="45"/><text x="22.5" y="22.5" font-size="7.5"><tspan x="22.5" dy="-1.45em">learn</tspan><tspan x="22.5" dy="1.2em">respect by</tspan><tspan x="22.5" dy="1.2em">practicing</tspan><tspan x="22.5" dy="1.2em">martial art</tspan></text></g>
<g id="r7" class="n" transform="translate(490,764)"><rect class="g" width="45" height="45"/><text x="22.5" y="22.5" font-size="5.7"><tspan x="22.5" dy="-2.05em">important that</tspan><tspan x="22.5" dy="1.2em">the system has</tspan><tspan x="22.5" dy="1.2em">a soul</tspan><tspan x="22.5" dy="1.2em">((ethically) good</tspan><tspan x="22.5" dy="1.2em">foundation)</tspan></text></g>
<g id="r8" class="n" transform="translate(439,818)"><rect class="y" width="45" height="45"/><text x="22.5" y="22.5" font-size="7.8"><tspan x="22.5" dy="-1.45em">bow</tspan><tspan x="22.5" dy="1.2em">towards IP</tspan><tspan x="22.5" dy="1.2em">Man as a</tspan><tspan x="22.5" dy="1.2em">routine</tspan></text></g>
<g id="f4" class="n" transform="translate(314,848)"><rect class="y" width="45" height="45"/><text x="22.5" y="22.5" font-size="7.5"><tspan x="22.5" dy="-1.45em">every</tspan><tspan x="22.5" dy="1.2em">member is</tspan><tspan x="22.5" dy="1.2em">part of the</tspan><tspan x="22.5" dy="1.2em">family</tspan></text></g>
<g id="f5" class="n" transform="translate(263,898)"><rect class="b" width="45" height="45"/><text x="22.5" y="22.5" font-size="5.7"><tspan x="22.5" dy="-2.65em">these families</tspan><tspan x="22.5" dy="1.2em">can extend all</tspan><tspan x="22.5" dy="1.2em">other world and</tspan><tspan x="22.5" dy="1.2em">every member</tspan><tspan x="22.5" dy="1.2em">is always</tspan><tspan x="22.5" dy="1.2em">welcome</tspan></text></g>
<g id="f6" class="n" transform="translate(314,898)"><rect class="b" width="45" height="45"/><text x="22.5" y="22.5" font-size="4.8"><tspan x="22.5" dy="-3.25em">members of a</tspan><tspan x="22.5" dy="1.2em">lineage are</tspan><tspan x="22.5" dy="1.2em">considered a</tspan><tspan x="22.5" dy="1.2em">family, the family</tspan><tspan x="22.5" dy="1.2em">has a high</tspan><tspan x="22.5" dy="1.2em">importance for</tspan><tspan x="22.5" dy="1.2em">them</tspan></text></g>
<g id="f7" class="n" transform="translate(314,949)"><rect class="g" width="45" height="45"/><text x="22.5" y="22.5" font-size="6.3"><tspan x="22.5" dy="-2.05em">lineage does</tspan><tspan x="22.5" dy="1.2em">not have to</tspan><tspan x="22.5" dy="1.2em">stand for</tspan><tspan x="22.5" dy="1.2em">quality</tspan><tspan x="22.5" dy="1.2em">(advertisement)</tspan></text></g>

<g id="v2" class="n" transform="translate(567,551)"><rect class="b" width="45" height="45"/><text x="22.5" y="22.5" font-size="6.4"><tspan x="22.5" dy="-2.05em">some do not</tspan><tspan x="22.5" dy="1.2em">endorse the</tspan><tspan x="22.5" dy="1.2em">concept of a</tspan><tspan x="22.5" dy="1.2em">grading</tspan><tspan x="22.5" dy="1.2em">system</tspan></text></g>
<g id="v3" class="n" transform="translate(567,601)"><rect class="b" width="45" height="45"/><text x="22.5" y="22.5" font-size="4.4"><tspan x="22.5" dy="-3.25em">every Sifu has a</tspan><tspan x="22.5" dy="1.2em">different</tspan><tspan x="22.5" dy="1.2em">understanding of</tspan><tspan x="22.5" dy="1.2em">what Wing Chun is,</tspan><tspan x="22.5" dy="1.2em">they will try to</tspan><tspan x="22.5" dy="1.2em">convince others of</tspan><tspan x="22.5" dy="1.2em">their idea</tspan></text></g>
<g id="v4" class="n" transform="translate(567,651)"><rect class="b" width="45" height="45"/><text x="22.5" y="22.5" font-size="5.5"><tspan x="22.5" dy="-2.65em">they might not</tspan><tspan x="22.5" dy="1.2em">identify with</tspan><tspan x="22.5" dy="1.2em">Wing Chun but</tspan><tspan x="22.5" dy="1.2em">are still</tspan><tspan x="22.5" dy="1.2em">dedicated</tspan><tspan x="22.5" dy="1.2em">towards it</tspan></text></g>
<g id="v5" class="n" transform="translate(567,701)"><rect class="b" width="45" height="45"/><text x="22.5" y="22.5" font-size="5.6"><tspan x="22.5" dy="-2.65em">they might not</tspan><tspan x="22.5" dy="1.2em">like the amount</tspan><tspan x="22.5" dy="1.2em">and variety of</tspan><tspan x="22.5" dy="1.2em">lineages and</tspan><tspan x="22.5" dy="1.2em">interpretations of</tspan><tspan x="22.5" dy="1.2em">Wing Chun</tspan></text></g>
<g id="e12" class="n" transform="translate(643,614)"><rect class="y" width="45" height="45"/><text x="22.5" y="22.5" font-size="9"><tspan x="22.5" dy="-0.85em">have to</tspan><tspan x="22.5" dy="1.2em">act within</tspan><tspan x="22.5" dy="1.2em">the law</tspan></text></g>
<g id="e13" class="n" transform="translate(694,614)"><rect class="g" width="45" height="45"/><text x="22.5" y="22.5" font-size="7.5"><tspan x="22.5" dy="-1.45em">acts within</tspan><tspan x="22.5" dy="1.2em">the law even</tspan><tspan x="22.5" dy="1.2em">if he kills</tspan><tspan x="22.5" dy="1.2em">someone</tspan></text></g>
<g id="e14" class="n" transform="translate(745,614)"><rect class="g" width="45" height="45"/><text x="22.5" y="22.5" font-size="6"><tspan x="22.5" dy="-2.05em">It is ok to kill</tspan><tspan x="22.5" dy="1.2em">someone in the</tspan><tspan x="22.5" dy="1.2em">action (there</tspan><tspan x="22.5" dy="1.2em">are no rules for</tspan><tspan x="22.5" dy="1.2em">self-defence)</tspan></text></g>
<g id="e15" class="n" transform="translate(796,614)"><rect class="g" width="45" height="45"/><text x="22.5" y="22.5" font-size="7.5"><tspan x="22.5" dy="-1.45em">can kill</tspan><tspan x="22.5" dy="1.2em">someone</tspan><tspan x="22.5" dy="1.2em">with Wing</tspan><tspan x="22.5" dy="1.2em">Chun</tspan></text></g>
<g id="e16" class="n" transform="translate(643,664)"><rect class="b" width="45" height="45"/><text x="22.5" y="22.5" font-size="7.5"><tspan x="22.5" dy="-1.45em">only use as</tspan><tspan x="22.5" dy="1.2em">much</tspan><tspan x="22.5" dy="1.2em">violence as</tspan><tspan x="22.5" dy="1.2em">neccessary</tspan></text></g>
<g id="e17" class="n" transform="translate(745,664)"><rect class="b" width="45" height="45"/><text x="22.5" y="22.5" font-size="7"><tspan x="22.5" dy="-2.05em">will eliminate</tspan><tspan x="22.5" dy="1.2em">their</tspan><tspan x="22.5" dy="1.2em">opponent in a</tspan><tspan x="22.5" dy="1.2em">lif or death</tspan><tspan x="22.5" dy="1.2em">situation</tspan></text></g>
<g id="e18" class="n" transform="translate(643,714)"><rect class="b" width="45" height="45"/><text x="22.5" y="22.5" font-size="7.3"><tspan x="22.5" dy="-1.45em">always have</tspan><tspan x="22.5" dy="1.2em">to be aware</tspan><tspan x="22.5" dy="1.2em">of</tspan><tspan x="22.5" dy="1.2em">consequences</tspan></text></g>
<g id="e19" class="n" transform="translate(643,766)"><rect class="b" width="45" height="45"/><text x="22.5" y="22.5" font-size="7"><tspan x="22.5" dy="-2.05em">should</tspan><tspan x="22.5" dy="1.2em">always care</tspan><tspan x="22.5" dy="1.2em">what they do</tspan><tspan x="22.5" dy="1.2em">to another</tspan><tspan x="22.5" dy="1.2em">person</tspan></text></g>
<g id="e20" class="n" transform="translate(694,766)"><rect class="b" width="45" height="45"/><text x="22.5" y="22.5" font-size="6.4"><tspan x="22.5" dy="-2.05em">should be</tspan><tspan x="22.5" dy="1.2em">mindful about</tspan><tspan x="22.5" dy="1.2em">teaching</tspan><tspan x="22.5" dy="1.2em">ethics of</tspan><tspan x="22.5" dy="1.2em">fighting</tspan></text></g>
<g id="v6" class="n" transform="translate(567,824)"><rect class="y" width="45" height="45"/><text x="22.5" y="22.5" font-size="6.6"><tspan x="22.5" dy="-1.45em">explanation</tspan><tspan x="22.5" dy="1.2em">and reasoning</tspan><tspan x="22.5" dy="1.2em">for every form</tspan><tspan x="22.5" dy="1.2em">and technique</tspan></text></g>
<g id="v7" class="n" transform="translate(567,874)"><rect class="b" width="45" height="45"/><text x="22.5" y="22.5" font-size="5.6"><tspan x="22.5" dy="-2.65em">it's important</tspan><tspan x="22.5" dy="1.2em">that every</tspan><tspan x="22.5" dy="1.2em">aspect makes</tspan><tspan x="22.5" dy="1.2em">sense and can</tspan><tspan x="22.5" dy="1.2em">be tested to</tspan><tspan x="22.5" dy="1.2em">make sense</tspan></text></g>
<g id="v8" class="n" transform="translate(567,923)"><rect class="b" width="45" height="45"/><text x="22.5" y="22.5" font-size="5.6"><tspan x="22.5" dy="-2.65em">they have</tspan><tspan x="22.5" dy="1.2em">applied and</tspan><tspan x="22.5" dy="1.2em">tested Wing</tspan><tspan x="22.5" dy="1.2em">Chun in real-life</tspan><tspan x="22.5" dy="1.2em">situations</tspan><tspan x="22.5" dy="1.2em">before</tspan></text></g>
<g id="v9" class="n" transform="translate(567,1010)"><rect class="g" width="45" height="45"/><text x="22.5" y="22.5" font-size="7.3"><tspan x="22.5" dy="-1.45em">been in</tspan><tspan x="22.5" dy="1.2em">dangerous</tspan><tspan x="22.5" dy="1.2em">situation</tspan><tspan x="22.5" dy="1.2em">before</tspan></text></g>
<g id="u1" class="n" transform="translate(677,875)"><rect class="b" width="45" height="45"/><text x="22.5" y="22.5" font-size="7"><tspan x="22.5" dy="-1.45em">convinced</tspan><tspan x="22.5" dy="1.2em">that Wing</tspan><tspan x="22.5" dy="1.2em">Chun is more</tspan><tspan x="22.5" dy="1.2em">than tool</tspan></text></g>
</svg>
